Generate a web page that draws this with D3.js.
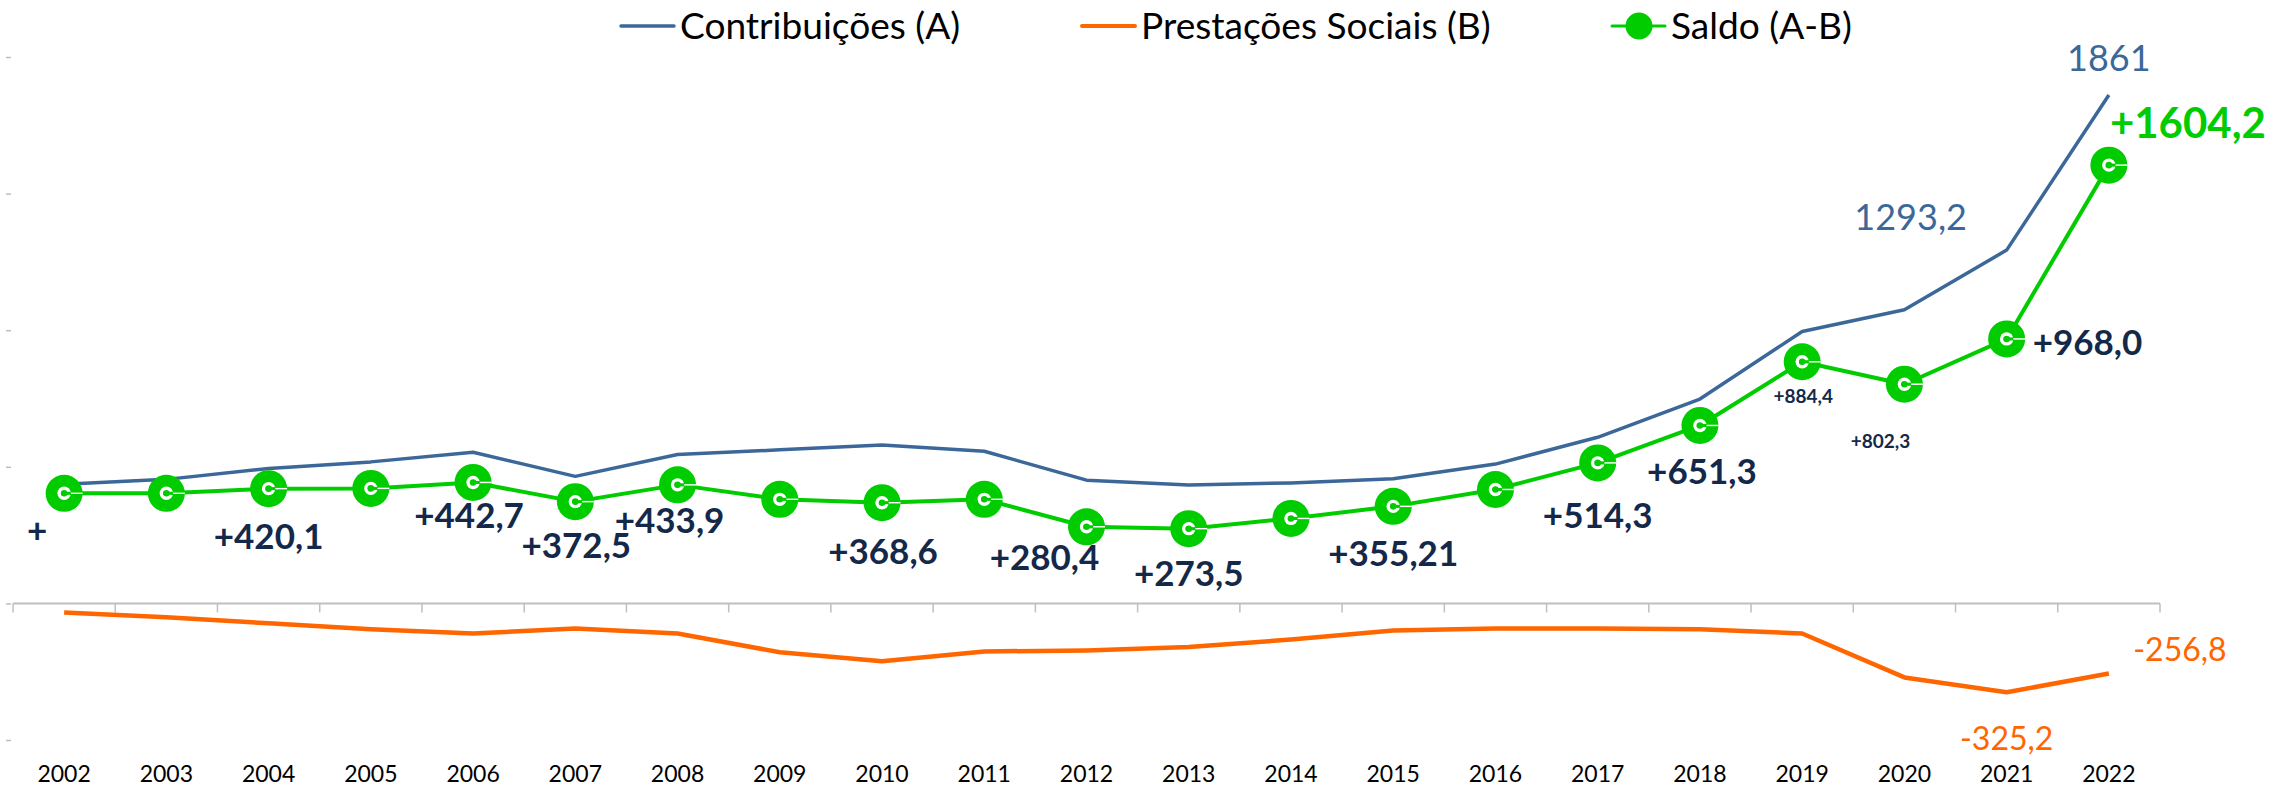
<!DOCTYPE html>
<html><head><meta charset="utf-8">
<script src="https://cdn.jsdelivr.net/npm/d3@7"></script>
<style>
html,body{margin:0;padding:0;background:#fff;}
svg{display:block;font-family:Lato, "Open Sans", sans-serif;}
</style></head>
<body><svg id="chart" width="2293" height="788"></svg>
<script>
// ---- data ----
const years = ["2002","2003","2004","2005","2006","2007","2008","2009","2010","2011","2012","2013","2014","2015","2016","2017","2018","2019","2020","2021","2022"];
const contribuicoes = [436, 454, 494, 518, 553, 465, 545, 562, 580, 557, 451, 433, 441, 456, 510, 608, 748, 995, 1075, 1293.2, 1861];
const prestacoes = [-33, -51, -73, -95, -110, -92, -110, -179, -212, -176, -172, -160, -132, -99, -92, -92, -95, -110, -271, -325.2, -256.8];
const saldo = [403, 403, 420.1, 421, 442.7, 372.5, 433.9, 381, 368.6, 381, 280.4, 273.5, 311, 355.21, 417, 514.3, 651.3, 884.4, 802.3, 968.0, 1604.2];
const saldoLabels = ["+", "", "+420,1", "", "+442,7", "+372,5", "+433,9", "", "+368,6", "", "+280,4", "+273,5", "", "+355,21", "", "+514,3", "+651,3", "+884,4", "+802,3", "+968,0", "+1604,2"];
const contribLabels = {"2021": "1293,2", "2022": "1861"};
const prestLabels = {"2021": "-325,2", "2022": "-256,8"};
const yTicks = [-500, 0, 500, 1000, 1500, 2000];
const seriesNames = ["Contribuições (A)", "Prestações Sociais (B)", "Saldo (A-B)"];

// ---- layout / style (not data) ----
const C_BLUE = "#3b6898", C_ORANGE = "#ff6600", C_GREEN = "#00cc00", C_NAVY = "#14284a";
const saldoLabelStyle = { // year -> [dx, dy, kind]
  "2002": [-27, 37, "n"], "2004": [0, 48, "n"], "2006": [-4, 33, "n"], "2007": [1, 44, "n"],
  "2008": [-8, 36, "n"], "2010": [1, 49, "n"], "2012": [-42, 31, "n"], "2013": [0, 45, "n"],
  "2015": [0, 47, "n"], "2017": [0, 52, "n"], "2018": [2, 46, "n"], "2019": [1, 34, "s"],
  "2020": [-24, 57, "s"], "2021": [26, 3, "r"], "2022": [1, -42, "g"]
};
const contribLabelStyle = {"2021": [-96, -33], "2022": [0, -37]};
const prestLabelStyle = {"2021": [0, 46], "2022": [71, -24]};

const svg = d3.select("#chart");
const x = d3.scaleBand().domain(years).range([13, 2160]);
const bw = x.bandwidth();
const cx = d => x(d) + bw / 2;
const y = d3.scaleLinear().domain([-500, 2000]).range([740, 57]);

function txt(g, px, py, s, o) {
  return g.append("text")
    .attr("transform", `translate(${px},${py}) scale(${o.sx || 1},1)`)
    .attr("text-anchor", o.anchor || "middle")
    .attr("dy", o.dy || "0.36em")
    .style("font-size", o.size + "px")
    .style("font-weight", o.weight || 400)
    .attr("fill", o.fill || "#000")
    .text(s);
}

// y ticks (tiny marks only)
svg.append("g").attr("transform", "translate(11,0)")
  .call(d3.axisLeft(y).tickValues(yTicks).tickSize(5).tickFormat(""))
  .call(g => g.select(".domain").remove())
  .call(g => g.selectAll("line").attr("stroke", "#bdbdbd").attr("stroke-width", 1.5));

// x axis line + boundary ticks
const ax = svg.append("g").attr("transform", `translate(0,${y(0)})`);
ax.append("line").attr("x1", 13).attr("x2", 2160).attr("stroke", "#bfbfbf").attr("stroke-width", 2);
ax.selectAll("line.tk").data(years.concat(["_end"])).join("line").attr("class", "tk")
  .attr("x1", d => d === "_end" ? 2160 : x(d)).attr("x2", d => d === "_end" ? 2160 : x(d))
  .attr("y1", 0).attr("y2", 9).attr("stroke", "#bfbfbf").attr("stroke-width", 1.5);

// x labels
const xl = svg.append("g").attr("transform", "translate(0,782)")
  .call(d3.axisBottom(x).tickSize(0).tickPadding(0));
xl.select(".domain").remove();
xl.selectAll("text").attr("dy", 0).attr("y", 0).style("font-size", "23px").style("font-family", "Lato")
  .attr("fill", "#000").attr("x", 0);
xl.selectAll(".tick").attr("transform", d => `translate(${cx(d)},0)`);

const line = d3.line();
const pts = arr => years.map((yr, i) => [cx(yr), y(arr[i])]);

// Prestações line
svg.append("path").attr("d", line(pts(prestacoes))).attr("fill", "none")
  .attr("stroke", C_ORANGE).attr("stroke-width", 4.5).attr("stroke-linejoin", "round");
// Contribuições line
svg.append("path").attr("d", line(pts(contribuicoes))).attr("fill", "none")
  .attr("stroke", C_BLUE).attr("stroke-width", 3.5).attr("stroke-linejoin", "round");
// Saldo line
svg.append("path").attr("d", line(pts(saldo))).attr("fill", "none")
  .attr("stroke", C_GREEN).attr("stroke-width", 4).attr("stroke-linejoin", "round");

// markers
function marker(g, mx, my, r) {
  const k = r / 18;
  g.append("circle").attr("cx", mx).attr("cy", my).attr("r", r).attr("fill", C_GREEN);
  g.append("circle").attr("cx", mx).attr("cy", my).attr("r", 6.5 * k).attr("fill", "#fff");
  g.append("circle").attr("cx", mx).attr("cy", my).attr("r", 3.2 * k).attr("fill", C_GREEN);
  g.append("rect").attr("x", mx - 3 * k).attr("y", my - 1.5 * k).attr("width", 10 * k).attr("height", 3 * k).attr("fill", C_GREEN);
  g.append("line").attr("x1", mx + 6.5 * k).attr("x2", mx + r).attr("y1", my).attr("y2", my)
    .attr("stroke", "#fff").attr("stroke-width", 1.4 * k);
}
const mg = svg.append("g");
years.forEach((yr, i) => marker(mg, cx(yr), y(saldo[i]), 18.5));

// saldo labels
const lg = svg.append("g");
years.forEach((yr, i) => {
  const s = saldoLabels[i];
  if (!s) return;
  const st = saldoLabelStyle[yr];
  const px = cx(yr) + st[0], py = y(saldo[i]) + st[1];
  if (st[2] === "n") txt(lg, px, py, s, {size: 35, weight: 700, fill: C_NAVY});
  else if (st[2] === "s") txt(lg, px, py, s, {size: 19, weight: 700, fill: C_NAVY});
  else if (st[2] === "r") txt(lg, px, py, s, {size: 35, weight: 700, fill: C_NAVY, anchor: "start"});
  else if (st[2] === "g") txt(lg, px, py, s, {size: 42, weight: 700, fill: C_GREEN, anchor: "start"});
});
// contrib labels
Object.keys(contribLabels).forEach(yr => {
  const i = years.indexOf(yr), st = contribLabelStyle[yr];
  txt(lg, cx(yr) + st[0], y(contribuicoes[i]) + st[1], contribLabels[yr], {size: 36, fill: C_BLUE});
});
// prest labels
Object.keys(prestLabels).forEach(yr => {
  const i = years.indexOf(yr), st = prestLabelStyle[yr];
  txt(lg, cx(yr) + st[0], y(prestacoes[i]) + st[1], prestLabels[yr], {size: 32, fill: C_ORANGE});
});

// legend
const leg = svg.append("g");
const legItems = [
  {name: seriesNames[0], color: C_BLUE, x0: 621, tx: 680, w: 3.5},
  {name: seriesNames[1], color: C_ORANGE, x0: 1082, tx: 1141, w: 4},
  {name: seriesNames[2], color: C_GREEN, x0: 1612, tx: 1671, w: 3, marker: true}
];
legItems.forEach(it => {
  leg.append("line").attr("x1", it.x0).attr("x2", it.x0 + 53).attr("y1", 26).attr("y2", 26)
    .attr("stroke", it.color).attr("stroke-width", it.w).attr("stroke-linecap", "round");
  if (it.marker) leg.append("circle").attr("cx", it.x0 + 27).attr("cy", 26).attr("r", 13.5).attr("fill", it.color);
  txt(leg, it.tx, 26, it.name, {size: 36, fill: "#000", anchor: "start", sx: 1.03});
});
</script></body></html>
